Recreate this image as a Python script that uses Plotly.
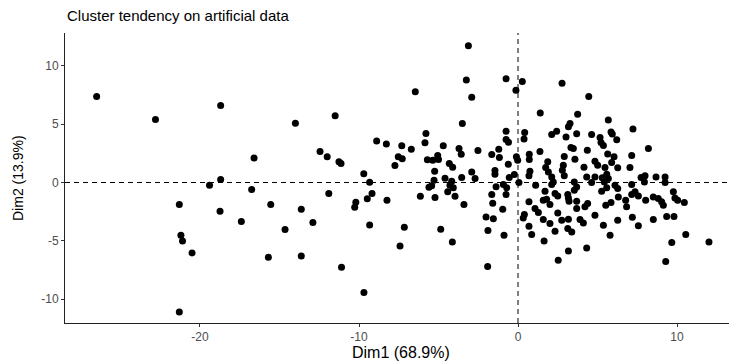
import plotly.graph_objects as go

dim1 = [
    -26.5, -22.8, -18.7, -16.6, -18.7, -19.4, -16.75, -21.3, -15.55, -18.74, -17.4, -21.2, -21.1, -20.5, -15.7, -21.3,
    -6.46, -11.5, -14.0, -5.79, -8.89, -8.28, -7.31, -5.85, -6.71, -12.45, -12.0, -11.26, -11.13, -7.53, -7.28, -7.74,
    -5.7, -9.7, -9.33, -5.6, -11.9, -9.18, -6.14, -9.48, -8.24, -10.2, -10.27, -13.63, -12.9, -14.65, -9.33, -7.15,
    -7.42, -13.63, -11.1, -9.69,
    -3.12, -3.25, -0.75, -0.13, -2.91, -3.5, -0.75, -0.75, -0.6, -4.7, -3.71, -2.52, -1.21, -3.57, -1.65, -1.17,
    -0.1, -5.05, -5.0, -5.36, -4.32, -4.11, -0.61, -5.24, -2.91, -1.45, -1.45, -0.23, -0.55, -4.59, -3.54, -2.7,
    -4.17, -5.28, -5.43, -4.28, -4.07, -4.42, -5.22, -3.96, -3.4, -1.65, -0.75, -1.38, -0.92, -0.71, -1.59, -0.96,
    -2.01, -1.55, -1.89, -0.88, -4.86, -4.13, -1.91,
    0.27, 2.77, 4.45, 1.4, 3.75, 5.68, 3.27, 3.17, 2.43, 2.12, 0.42, 0.38, 3.02, 3.69, 4.63, 5.16, 5.22, 5.37,
    1.38, 3.33, 3.48, 4.36, 5.64, 0.71, 0.71, 2.91, 3.58, -0.02, 1.87, 2.85, 1.74, 4.15, 4.84, 5.01, 5.47, 0.75,
    0.69, 1.91, 2.79, 2.91, 2.12, 4.32, 4.84, 5.3,
    0.06, 1.11, 2.22, 2.12, 3.54, 3.69, 4.63, 5.43, 1.7, 2.33, 2.5, 3.13, 3.54, 5.26, 5.58, 0.69, 1.59, 1.8,
    2.01, 3.17, 3.21, 3.69, 3.69, 4.21, 4.38, 5.52, 1.07, 1.28, 0.4, 0.33, 2.5, 4.84, 1.59, 2.01, 2.75, 3.17,
    3.9, 4.11, 0.69, 2.33, 3.13, 3.38, 5.37, 0.86, 5.79, 1.64, 4.32, 3.17, 2.53,
    7.23, 5.85, 5.93, 6.21, 8.2, 6.04, 7.15, 5.89, 6.27, 7.04, 5.58, 5.68, 7.74, 7.99, 8.68, 9.25,
    7.95, 9.25, 6.1, 6.27, 7.15, 7.36, 7.57, 7.15, 8.03, 6.31, 6.77, 8.51, 8.82, 9.03, 9.14, 9.77, 9.87, 10.46,
    5.85, 6.83, 6.27, 7.19, 8.51, 9.35, 9.81, 7.57, 10.55, 9.67, 9.29,
    10.04, 12.01,
]

dim2 = [
    7.38, 5.41, 6.61, 2.09, 0.26, -0.23, -0.6, -1.89, -1.89, -2.46, -3.35, -4.52, -5.01, -6.04, -6.41, -11.1,
    7.78, 5.72, 5.09, 4.2, 3.55, 3.31, 3.14, 3.4, 2.86, 2.66, 2.2, 1.77, 1.63, 2.2, 2.03, 1.46,
    1.94, 0.74, 0.03, -0.4, -0.94, -0.94, -1.18, -1.4, -1.52, -1.69, -2.12, -2.29, -3.43, -4.04, -3.64, -3.84,
    -5.44, -6.3, -7.27, -9.44,
    11.73, 8.78, 8.9, 7.9, 7.32, 5.06, 4.4, 3.69, 3.45, 3.14, 2.92, 2.75, 2.86, 2.43, 2.4, 2.15,
    2.2, 2.32, 1.97, 1.91, 1.63, 1.31, 1.57, 0.97, 0.91, 1.03, 0.71, 0.69, 0.43, 0.37, 0.43, 0.34,
    0.11, 0.2, -0.29, -0.23, -0.46, -0.8, -1.29, -1.18, -1.89, -1.03, -1.03, -0.37, -0.17, -0.46, -1.78, -2.29,
    -2.95, -3.12, -4.12, -4.52, -4.01, -5.1, -7.21,
    8.67, 8.52, 7.38, 5.95, 5.86, 5.35, 5.06, 4.77, 4.4, 4.12, 4.29, 3.74, 3.91, 4.17, 4.12, 3.86, 3.43, 3.18,
    2.66, 3.0, 2.92, 2.77, 2.45, 2.43, 1.97, 2.23, 2.0, 1.91, 1.77, 1.48, 1.29, 1.31, 1.83, 1.48, 1.29, 0.97,
    0.57, 0.91, 1.06, 0.57, 0.48, 0.48, 0.48, 0.4,
    0.0, -0.23, 0.05, -0.17, 0.05, -0.38, 0.0, 0.05, -0.75, -0.94, -1.15, -1.03, -0.66, -0.75, -0.46, -1.66, -1.52, -1.43,
    -1.89, -1.32, -1.61, -1.61, -2.23, -2.09, -1.8, -1.95, -2.23, -2.58, -2.75, -3.04, -2.61, -2.81, -3.18, -3.52, -3.24, -3.15,
    -3.18, -3.47, -3.75, -4.18, -3.95, -4.24, -3.67, -4.46, -4.52, -5.01, -5.61, -5.87, -6.67,
    4.58, 4.34, 4.15, 3.66, 2.92, 2.2, 2.32, 1.72, 1.26, 1.29, 0.71, 0.34, 0.43, 0.57, 0.48, 0.48,
    0.05, 0.0, -0.23, -0.52, -0.17, -0.8, -1.15, -1.03, -1.52, -1.24, -1.52, -1.24, -1.37, -1.66, -1.95, -0.8, -1.32, -1.72,
    -1.72, -2.09, -3.24, -2.98, -3.18, -2.92, -2.92, -3.72, -4.46, -5.15, -6.78,
    -1.52, -5.1,
]

x_ticks = [-20, -10, 0, 10]
y_ticks = [-10, -5, 0, 5, 10]

title_text = "Cluster tendency on artificial data"
x_title = "Dim1 (68.9%)"
y_title = "Dim2 (13.9%)"

FONT = "Liberation Sans, Arial, Helvetica, sans-serif"
TICK_COLOR = "#4D4D4D"

fig = go.Figure()
fig.add_trace(go.Scatter(
    x=dim1, y=dim2, mode="markers",
    marker=dict(size=7, color="black", line=dict(width=0)),
    hoverinfo="skip", showlegend=False,
))

fig.add_shape(type="line", xref="x", yref="paper", x0=0, x1=0, y0=0, y1=1,
              line=dict(color="black", width=1, dash="5px,4px"), layer="below")
fig.add_shape(type="line", xref="paper", yref="y", x0=0, x1=1, y0=0, y1=0,
              line=dict(color="black", width=1, dash="5px,4px"), layer="below")


def axis_style(rng, ticks):
    return dict(
        range=rng, tickmode="array", tickvals=ticks, ticktext=[str(v) for v in ticks],
        showgrid=False, zeroline=False, showline=True, linecolor="#222222", linewidth=1,
        ticks="outside", ticklen=3, tickwidth=1, tickcolor="#333333",
        tickfont=dict(family=FONT, size=12, color=TICK_COLOR),
        mirror=False,
    )


fig.update_layout(
    template="none",
    width=729, height=363,
    margin=dict(l=65, r=0, t=33, b=40, pad=0),
    paper_bgcolor="white", plot_bgcolor="white",
    font=dict(family=FONT, color=TICK_COLOR),
    xaxis=axis_style([-28.49, 13.27], x_ticks),
    yaxis=axis_style([-12.05, 12.82], y_ticks),
    annotations=[
        dict(text=title_text, xref="paper", yref="paper", x=0, y=1, yshift=18,
             xanchor="left", yanchor="middle", showarrow=False,
             font=dict(family=FONT, size=15, color="black")),
        dict(text=x_title, xref="paper", yref="paper", x=(401 - 65) / 664, y=0, yshift=-29,
             xanchor="center", yanchor="middle", showarrow=False,
             font=dict(family=FONT, size=16, color="black")),
        dict(text=y_title, xref="paper", yref="paper", x=0, xshift=-47, y=0.5,
             xanchor="center", yanchor="middle", textangle=-90, showarrow=False,
             font=dict(family=FONT, size=14, color="black")),
    ],
)

fig.write_html("out.html", config={"displayModeBar": False},
               post_script="document.body.style.margin='0';")
